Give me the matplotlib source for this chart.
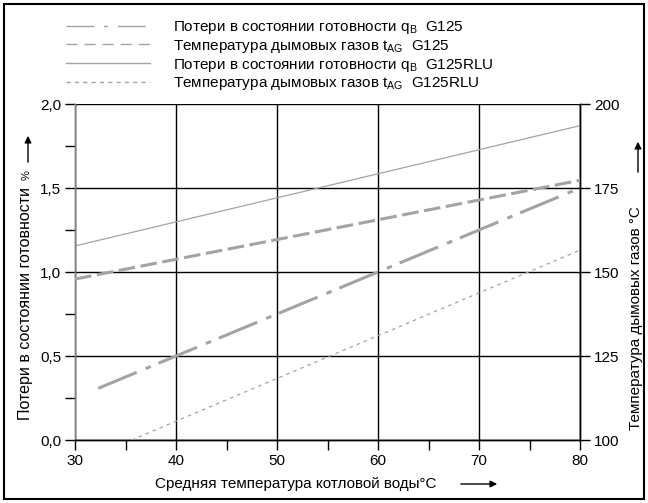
import matplotlib
matplotlib.use("Agg")
import matplotlib.pyplot as plt
from matplotlib.lines import Line2D
from matplotlib.patches import Rectangle

plt.rcParams['font.family'] = ['Liberation Sans', 'DejaVu Sans']
plt.rcParams['mathtext.fontset'] = 'custom'
plt.rcParams['mathtext.rm'] = 'Liberation Sans'
plt.rcParams['mathtext.it'] = 'Liberation Sans'
plt.rcParams['lines.scale_dashes'] = False

# data (straight lines, end points)
x_qb_g125 = [32.3, 80]
qb_g125 = [0.3075, 1.5]
x_tag_g125 = [30, 80]
tag_g125 = [147.9, 177.3]
x_qb_rlu = [30, 80]
qb_rlu = [1.155, 1.871]
x_tag_rlu = [35.6, 80]
tag_rlu = [100, 156.5]

xticks = [30, 40, 50, 60, 70, 80]
yticks_left = [0.0, 0.5, 1.0, 1.5, 2.0]
ylabels_left = ["0,0", "0,5", "1,0", "1,5", "2,0"]
yticks_right = [100, 125, 150, 175, 200]

labels = [
    "Потери в состоянии готовности q$_{\\mathrm{B}}$  G125",
    "Температура дымовых газов t$_{\\mathrm{AG}}$  G125",
    "Потери в состоянии готовности q$_{\\mathrm{B}}$  G125RLU",
    "Температура дымовых газов t$_{\\mathrm{AG}}$  G125RLU",
]

W, H = 648, 503
fig = plt.figure(figsize=(W / 100, H / 100), dpi=100)
ax = fig.add_axes([75 / W, 1 - 440 / H, 505 / W, 336 / H])
ax2 = ax.twinx()

gray = '#a3a3a3'
dd = (30, 7, 4, 6)
dsh = (12, 4)
dot = (2.5, 3)

ax.plot(x_qb_g125, qb_g125, color=gray, lw=2.2, dashes=dd, zorder=3)
ax2.plot(x_tag_g125, tag_g125, color=gray, lw=2.2, dashes=dsh, zorder=3)
ax.plot(x_qb_rlu, qb_rlu, color=gray, lw=0.9, zorder=3)
ax2.plot(x_tag_rlu, tag_rlu, color=gray, lw=0.9, dashes=dot, zorder=3)

ax.set_xlim(30, 80)
ax.set_ylim(0, 2)
ax2.set_ylim(100, 200)

ax.set_xticks(xticks)
ax.set_xticks([35, 45, 55, 65, 75], minor=True)
ax.set_yticks(yticks_left)
ax.set_yticklabels(ylabels_left)
ax.set_yticks([0.25, 0.75, 1.25, 1.75], minor=True)
ax2.set_yticks(yticks_right)

fs = 11
ax.grid(True, color='black', lw=1)
ax.tick_params(which='both', direction='out', length=7, width=1, labelsize=fs,
               color='black', pad=3)
ax2.tick_params(direction='out', length=7, width=1, labelsize=fs, pad=3)
for s in ['left', 'right', 'top', 'bottom']:
    ax.spines[s].set_linewidth(1)
    ax2.spines[s].set_linewidth(1)
ax.spines['left'].set_color('#808080')
ax2.spines['left'].set_color('#808080')
ax.spines['top'].set_visible(False)
ax2.spines['top'].set_visible(False)

arrow = dict(arrowstyle='-|>', color='black', lw=1, mutation_scale=10)

# axis labels with arrows
fig.text(296 / W, 1 - 484 / H, "Средняя температура котловой воды\u00b0C",
         ha='center', va='center', fontsize=fs)
ax.annotate("", xy=(500 / W, 1 - 484 / H), xytext=(458 / W, 1 - 484 / H),
            xycoords='figure fraction', arrowprops=arrow)
fig.text(26 / W, 1 - 303 / H, "Потери в состоянии готовности",
         ha='center', va='center', rotation=90, fontsize=11.5)
fig.text(27 / W, 1 - 175 / H, "%", ha='center', va='center', rotation=90, fontsize=8)
ax.annotate("", xy=(28 / W, 1 - 133 / H), xytext=(28 / W, 1 - 165 / H),
            xycoords='figure fraction', arrowprops=arrow)
fig.text(636 / W, 1 - 318 / H, "Температура дымовых газов \u00b0C",
         ha='center', va='center', rotation=90, fontsize=fs)
ax.annotate("", xy=(638 / W, 1 - 139 / H), xytext=(638 / W, 1 - 175 / H),
            xycoords='figure fraction', arrowprops=arrow)

# legend
handles = [
    Line2D([], [], color=gray, lw=1, dashes=(20, 7, 3, 7)),
    Line2D([], [], color=gray, lw=1, dashes=(8, 5)),
    Line2D([], [], color=gray, lw=1),
    Line2D([], [], color=gray, lw=1, dashes=(3, 3)),
]
fig.legend(handles, labels, loc='upper left', bbox_to_anchor=(66 / W, 1 - 19 / H),
           frameon=False, fontsize=fs, handlelength=5.5, handletextpad=1.5,
           labelspacing=0.12, borderpad=0, borderaxespad=0)

# outer frame
fig.add_artist(Rectangle((4 / W, 1 - 499 / H), 640 / W, 495 / H, transform=fig.transFigure,
                         fill=False, edgecolor='black', lw=1.5))

fig.savefig("out.png", dpi=100)
